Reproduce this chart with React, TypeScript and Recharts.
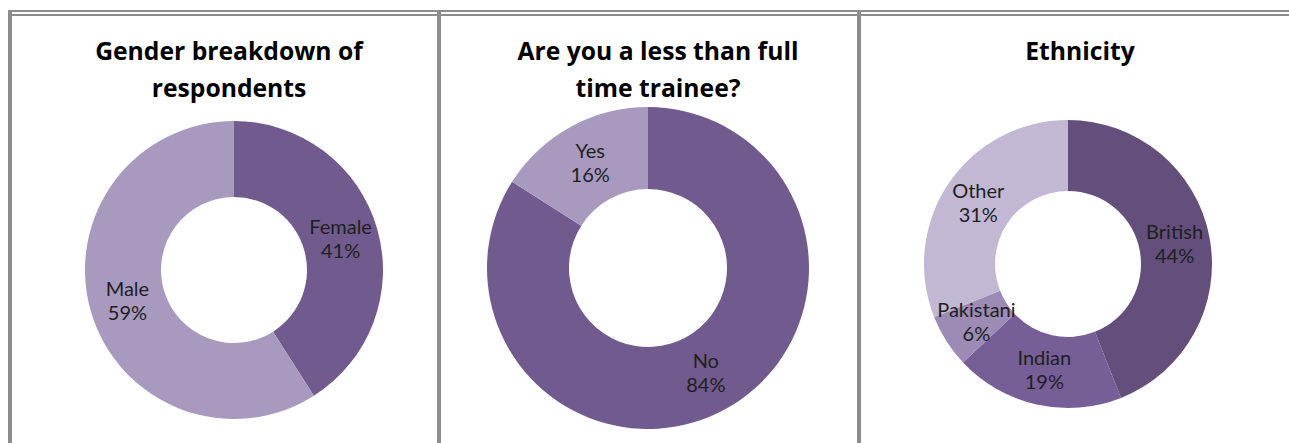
import { PieChart, Pie, Cell } from 'recharts';

const genderLabels = ['Female', 'Male'];
const genderValues = [41, 59];
const genderColors = ['#715a8e', '#a899bf'];

const ltftLabels = ['No', 'Yes'];
const ltftValues = [84, 16];
const ltftColors = ['#715a8e', '#a899bf'];

const ethnicityLabels = ['British', 'Indian', 'Pakistani', 'Other'];
const ethnicityValues = [44, 19, 6, 31];
const ethnicityColors = ['#634e7c', '#765e96', '#9c8bb5', '#c2b8d3'];

const FONT = 'Lato, "Open Sans", sans-serif';
const TITLE_FONT = '"Open Sans", Lato, sans-serif';
const GRAY = '#8d8d8d';

const toRows = (labels: string[], values: number[]) =>
  labels.map((name, i) => ({ name, value: values[i] }));

const RADIAN = Math.PI / 180;

const renderLabel = (props: any) => {
  const { cx, cy, midAngle, innerRadius, outerRadius, name, value } = props;
  const r = (innerRadius + outerRadius) / 2;
  const x = cx + r * Math.cos(-midAngle * RADIAN);
  const y = cy + r * Math.sin(-midAngle * RADIAN);
  return (
    <text x={x} y={y} textAnchor="middle" fill="#1f1f1f" fontFamily={FONT} fontSize={20}>
      <tspan x={x} dy={-5}>{name}</tspan>
      <tspan x={x} dy={24}>{value}%</tspan>
    </text>
  );
};

interface DonutProps {
  left: number;
  width: number;
  cx: number;
  cy: number;
  inner: number;
  outer: number;
  labels: string[];
  values: number[];
  colors: string[];
  title: string[];
  titleX: number;
}

const Donut = ({ left, width, cx, cy, inner, outer, labels, values, colors, title, titleX }: DonutProps) => (
  <div style={{ position: 'absolute', left, top: 0, width, height: 443 }}>
    {title.map((line, i) => (
      <div
        key={line}
        style={{
          position: 'absolute',
          left: titleX - 200,
          width: 400,
          top: 35 + i * 37,
          textAlign: 'center',
          fontFamily: TITLE_FONT,
          fontWeight: 700,
          fontSize: 24.7,
          lineHeight: '32px',
          color: '#000',
        }}
      >
        {line}
      </div>
    ))}
    <PieChart
      width={width}
      height={443}
      margin={{ top: 0, right: 0, bottom: 0, left: 0 }}
      style={{ position: 'absolute', left: 0, top: 0 }}
    >
      <Pie
        data={toRows(labels, values)}
        dataKey="value"
        nameKey="name"
        cx={cx}
        cy={cy}
        innerRadius={inner}
        outerRadius={outer}
        startAngle={90}
        endAngle={-270}
        stroke="none"
        label={renderLabel}
        labelLine={false}
        isAnimationActive={false}
      >
        {values.map((_, i) => (
          <Cell key={i} fill={colors[i]} />
        ))}
      </Pie>
    </PieChart>
  </div>
);

export default function App() {
  return (
    <div style={{ position: 'absolute', left: 0, top: 0, width: 1289, height: 443, overflow: 'hidden', background: '#fff' }}>
      <Donut left={0} width={437} cx={234} cy={270} inner={73} outer={149}
        labels={genderLabels} values={genderValues} colors={genderColors}
        title={['Gender breakdown of', 'respondents']} titleX={229} />
      <Donut left={441} width={416} cx={207} cy={268} inner={79} outer={161}
        labels={ltftLabels} values={ltftValues} colors={ltftColors}
        title={['Are you a less than full', 'time trainee?']} titleX={217} />
      <Donut left={861} width={428} cx={207} cy={264} inner={73} outer={144}
        labels={ethnicityLabels} values={ethnicityValues} colors={ethnicityColors}
        title={['Ethnicity']} titleX={219} />
      {/* frame lines */}
      <div style={{ position: 'absolute', left: 8, top: 10, width: 1281, height: 2, background: GRAY }} />
      <div style={{ position: 'absolute', left: 8, top: 14, width: 1281, height: 2, background: GRAY }} />
      <div style={{ position: 'absolute', left: 8, top: 10, width: 4, height: 433, background: GRAY }} />
      <div style={{ position: 'absolute', left: 437, top: 10, width: 4, height: 433, background: GRAY }} />
      <div style={{ position: 'absolute', left: 857, top: 10, width: 4, height: 433, background: GRAY }} />
    </div>
  );
}
